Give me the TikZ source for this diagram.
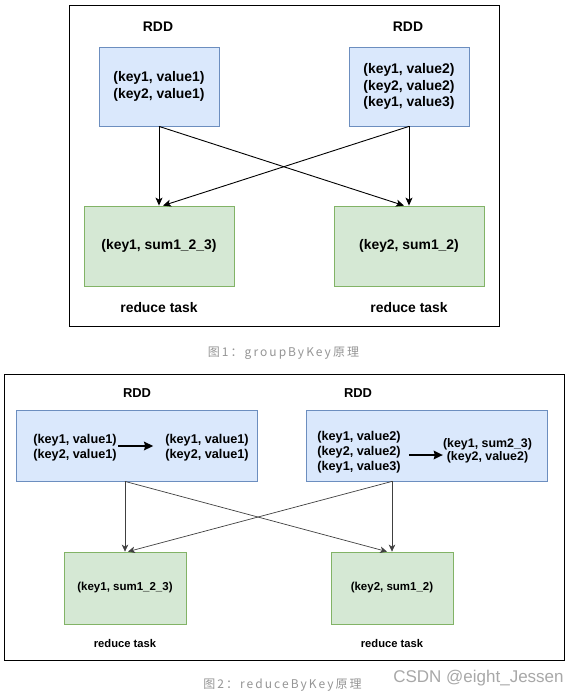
\documentclass[tikz,border=0pt]{standalone}
\usepackage{fontspec}
\setmainfont{Liberation Sans}
\newfontfamily\cjkfont{Noto Sans CJK SC}[LetterSpace=17]
\usetikzlibrary{positioning,arrows.meta,calc}
\definecolor{rddfill}{HTML}{DAE8FC}
\definecolor{rddline}{HTML}{6C8EBF}
\definecolor{taskfill}{HTML}{D5E8D4}
\definecolor{taskline}{HTML}{82B366}
\definecolor{capgray}{HTML}{959595}
\definecolor{markgray}{HTML}{A8A8A8}

\begin{document}
\begin{tikzpicture}[x=1bp,y=-1bp,
    frame/.style={draw=black,line width=1bp},
    rdd/.style={draw=rddline,fill=rddfill,line width=0.8bp,inner sep=0,align=center},
    task/.style={draw=taskline,fill=taskfill,line width=0.8bp,inner sep=0,align=center},
    txtA/.style={font=\bfseries\fontsize{13.9bp}{16.5bp}\selectfont},
    txtB/.style={font=\bfseries\fontsize{12.7bp}{15bp}\selectfont},
    txtC/.style={font=\bfseries\fontsize{11.5bp}{13bp}\selectfont},
    lab/.style={inner sep=0,align=center},
    flowA/.style={-{Stealth[length=8bp,width=7bp,inset=2bp]},line width=0.9bp},
    flowB/.style={-{Stealth[length=7bp,width=6.5bp,inset=2bp]},line width=0.7bp,black!75},
    combinearrow/.style={-{Stealth[length=9bp,width=8.5bp,inset=1bp]},line width=2bp}]

    \fill[white] (0,0) rectangle (572,696);
    \useasboundingbox (0,0) rectangle (572,696);

    % figure 1: groupByKey
    \draw[frame] (69,6) rectangle (499,326);
    \node[lab,txtA] (rddlabA1) at (158,27) {RDD};
    \node[lab,txtA] (rddlabA2) at (408,27) {RDD};
    \node[rdd,txtA,minimum width=120bp,minimum height=79bp] (rddA1) at (159,86.5) {(key1, value1)\\(key2, value1)};
    \node[rdd,txtA,minimum width=120bp,minimum height=79bp] (rddA2) at (409,86.5) {(key1, value2)\\(key2, value2)\\(key1, value3)};
    \node[task,txtA,minimum width=150bp,minimum height=80bp] (taskA1) at (159,246) {(key1, sum1\_2\_3)};
    \node[task,txtA,minimum width=150bp,minimum height=80bp] (taskA2) at (409,246) {(key2, sum1\_2)};
    \foreach \n in {1,2} \node[lab,txtA,below=15.5bp of taskA\n] (reduceA\n) {reduce task};

    % lines
    \draw[flowA] (rddA1.south) -- (taskA1.north);
    \draw[flowA] (rddA1.south) -- ($(taskA2.north)-(5,0)$);
    \draw[flowA] (rddA2.south) -- (taskA2.north);
    \draw[flowA] (rddA2.south) -- ($(taskA1.north)+(4,0)$);

    \node[lab,font=\cjkfont\fontsize{12bp}{14bp}\selectfont,text=capgray] (capA) at (283.5,353) {图1：groupByKey原理};

    % figure 2: reduceByKey
    \draw[frame] (4,374) rectangle (564,660);
    \node[lab,font=\bfseries\fontsize{12.9bp}{15bp}\selectfont] (rddlabB1) at (137,393) {RDD};
    \node[lab,font=\bfseries\fontsize{12.9bp}{15bp}\selectfont] (rddlabB2) at (358,393) {RDD};
    \node[rdd,minimum width=241bp,minimum height=71bp] (rddB1) at (136.5,445.5) {};
    \node[rdd,minimum width=241bp,minimum height=71bp] (rddB2) at (426.5,445.5) {};

    % map side combine inside the RDD boxes
    \node[lab,txtB] (inB1) at (75,447.5) {(key1, value1)\\(key2, value1)};
    \node[lab,txtB] (outB1) at (207,447.5) {(key1, value1)\\(key2, value1)};
    \node[lab,txtB] (inB2) at (359,452) {(key1, value2)\\(key2, value2)\\(key1, value3)};
    \node[lab,font=\bfseries\fontsize{12.4bp}{12.8bp}\selectfont] (outB2) at (487.5,451) {(key1, sum2\_3)\\(key2, value2)};
    \draw[combinearrow,shorten <=1.5bp,shorten >=12bp] ($(inB1.east)+(0,-1.5)$) -- ($(outB1.west)+(0,-1.5)$);
    \draw[combinearrow,shorten <=8bp] ($(inB2.east)+(0,3)$) -- ($(outB2.west |- inB2.east)+(0,3)$);

    \node[task,txtC,minimum width=122bp,minimum height=72bp] (taskB1) at (125,588) {(key1, sum1\_2\_3)};
    \node[task,txtC,minimum width=122bp,minimum height=72bp] (taskB2) at (392,588) {(key2, sum1\_2)};
    \foreach \n in {1,2} \node[lab,font=\bfseries\fontsize{11.2bp}{13bp}\selectfont,below=14.5bp of taskB\n] (reduceB\n) {reduce task};

    % lines
    \draw[flowB] (rddB1.south -| taskB1.north) -- (taskB1.north);
    \draw[flowB] (rddB1.south -| taskB1.north) -- ($(taskB2.north)-(5,0)$);
    \draw[flowB] (rddB2.south -| taskB2.north) -- (taskB2.north);
    \draw[flowB] (rddB2.south -| taskB2.north) -- ($(taskB1.north)+(3,0)$);

    \node[lab,font=\cjkfont\fontsize{12bp}{14bp}\selectfont,text=capgray] (capB) at (282.5,685) {图2：reduceByKey原理};
    \node[lab,font=\fontsize{17bp}{20bp}\selectfont,text=markgray] (mark) at (478.5,678) {CSDN @eight\_Jessen};
\end{tikzpicture}
\end{document}
